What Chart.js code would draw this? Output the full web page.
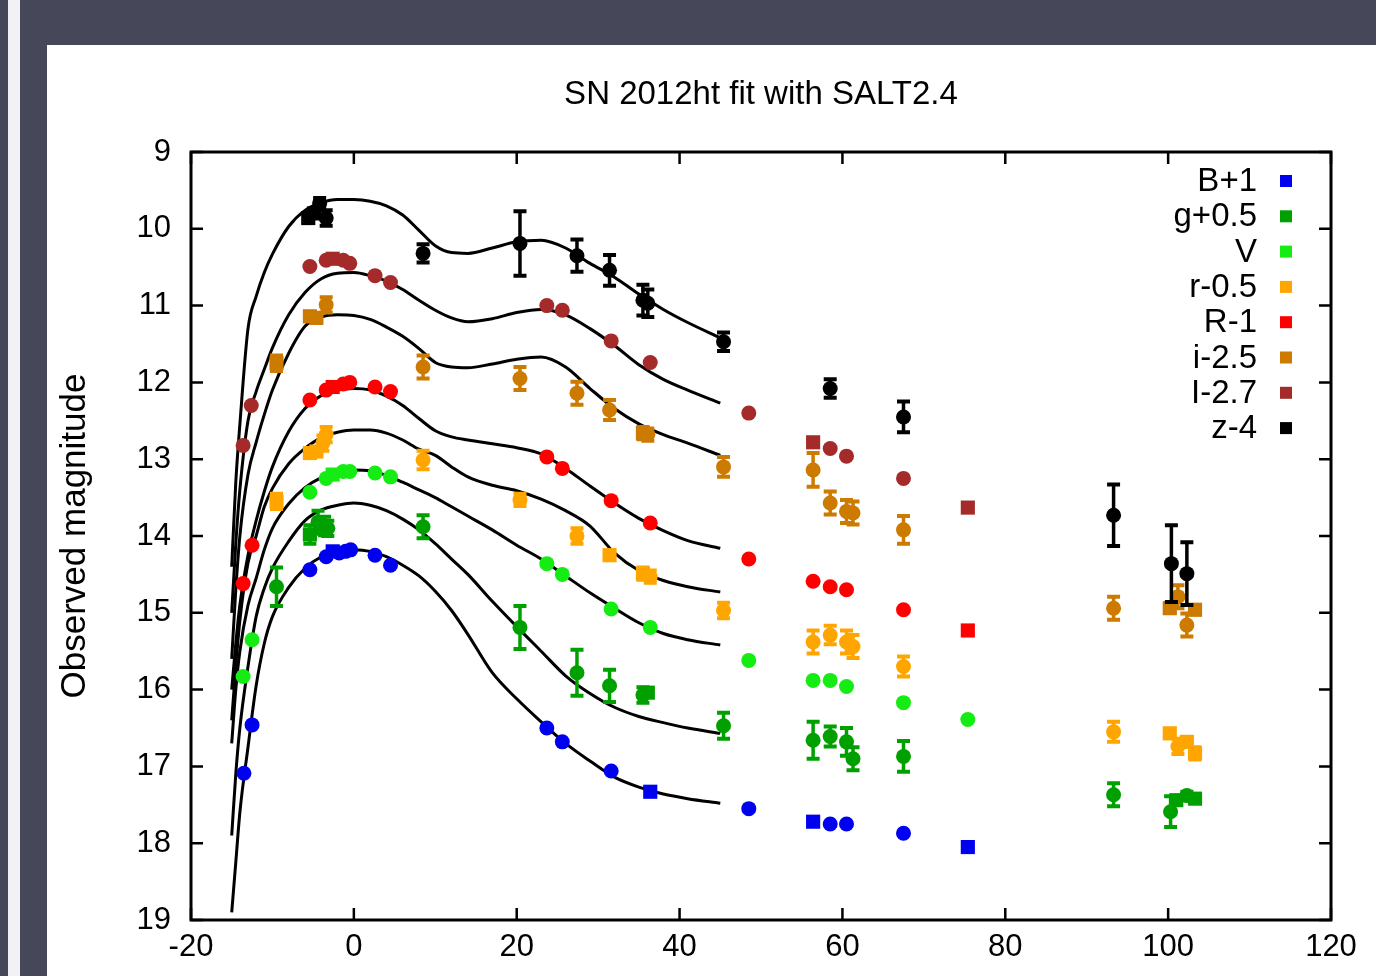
<!DOCTYPE html>
<html>
<head>
<meta charset="utf-8">
<script src="https://cdn.jsdelivr.net/npm/chart.js@4"></script>
<style>
   html, body { margin: 0; padding: 0; }
   body { width: 1376px; height: 976px; background: #464859; position: relative; overflow: hidden; }
   .strip { position: absolute; left: 8px; top: 0; width: 12px; height: 976px; background: #f2f2f5; }
   .panel { position: absolute; left: 47px; top: 45px; width: 1329px; height: 931px; background: #fff; }
</style>
</head>
<body>
<div class="strip"></div>
<div class="panel"><canvas id="myChart" width="1329" height="931"></canvas></div>
<script>
// model curves (SALT2.4 fit)
const curveX = [-15, -14.5, -14, -13, -12, -11, -10, -8, -6, -4, -2, 0, 2, 4, 6, 8, 10, 12, 14, 17, 20, 23, 26, 29, 32, 35, 38, 41, 45];
const zCurve = [14.4, 13.3, 12.55, 11.3, 10.88, 10.57, 10.33, 9.97, 9.76, 9.66, 9.62, 9.62, 9.64, 9.7, 9.82, 10.02, 10.22, 10.31, 10.32, 10.25, 10.17, 10.15, 10.25, 10.45, 10.63, 10.85, 11.05, 11.22, 11.42];
const ICurve = [15.0, 14.1, 13.4, 12.5, 12.12, 11.83, 11.55, 11.12, 10.83, 10.65, 10.58, 10.57, 10.61, 10.68, 10.79, 10.93, 11.06, 11.16, 11.21, 11.17, 11.09, 11.05, 11.12, 11.3, 11.52, 11.77, 11.96, 12.1, 12.27];
const iCurve = [15.6, 14.7, 14.0, 13.2, 12.78, 12.42, 12.1, 11.62, 11.27, 11.15, 11.12, 11.13, 11.18, 11.28, 11.4, 11.56, 11.74, 11.8, 11.81, 11.76, 11.7, 11.67, 11.8, 12.08, 12.34, 12.54, 12.68, 12.79, 12.95];
const RCurve = [16.0, 15.4, 14.9, 14.25, 13.8, 13.42, 13.1, 12.64, 12.34, 12.17, 12.1, 12.08, 12.1, 12.18, 12.3, 12.47, 12.63, 12.71, 12.75, 12.8, 12.85, 12.93, 13.12, 13.35, 13.57, 13.77, 13.93, 14.06, 14.16];
const rCurve = [16.4, 15.7, 15.1, 14.35, 14.0, 13.62, 13.38, 13.06, 12.86, 12.72, 12.65, 12.62, 12.62, 12.66, 12.75, 12.87, 12.95, 13.1, 13.23, 13.34, 13.41, 13.52, 13.67, 13.87, 14.22, 14.45, 14.58, 14.66, 14.73];
const VCurve = [16.7, 16.0, 15.5, 14.9, 14.55, 14.18, 13.9, 13.58, 13.37, 13.24, 13.17, 13.14, 13.15, 13.21, 13.3, 13.4, 13.5, 13.62, 13.74, 13.92, 14.12, 14.3, 14.52, 14.74, 14.94, 15.13, 15.27, 15.35, 15.42];
const gCurve = [17.9, 17.1, 16.5, 15.7, 15.05, 14.68, 14.42, 14.07, 13.8, 13.66, 13.6, 13.57, 13.6, 13.67, 13.78, 13.92, 14.1, 14.3, 14.5, 14.85, 15.18, 15.5, 15.82, 16.05, 16.23, 16.35, 16.43, 16.5, 16.57];
const BCurve = [18.9, 18.25, 17.6, 16.75, 15.95, 15.4, 15.05, 14.67, 14.42, 14.27, 14.2, 14.18, 14.2, 14.27, 14.38, 14.52, 14.72, 14.97, 15.28, 15.78, 16.12, 16.42, 16.7, 16.93, 17.14, 17.27, 17.36, 17.42, 17.48];

// observed photometry (days, magnitude, error); *Sq = indexes drawn as squares
const BX = [-13.5, -12.5, -5.4, -3.4, -2.6, -1.8, -1.0, -0.4, 2.6, 4.5, 23.7, 25.6, 31.6, 36.4, 48.5, 56.4, 58.5, 60.5, 67.5, 75.4];
const BMag = [17.09, 16.46, 14.44, 14.27, 14.2, 14.22, 14.2, 14.18, 14.25, 14.38, 16.5, 16.68, 17.06, 17.33, 17.55, 17.72, 17.75, 17.75, 17.87, 18.05];
const BSq = [4, 13, 15, 19];

const gX = [-9.5, -5.4, -4.4, -3.6, -3.2, 8.5, 20.4, 27.4, 31.4, 35.5, 36.1, 45.4, 56.4, 58.5, 60.5, 61.3, 67.5, 93.3, 100.3, 101.0, 102.3, 103.3];
const gMag = [14.66, 13.98, 13.82, 13.87, 13.9, 13.88, 15.19, 15.78, 15.95, 16.07, 16.04, 16.47, 16.66, 16.61, 16.68, 16.9, 16.87, 17.37, 17.59, 17.44, 17.38, 17.42];
const gErr = [0.25, 0.12, 0.15, 0.12, 0.1, 0.15, 0.28, 0.3, 0.21, 0.1, 0.05, 0.17, 0.24, 0.13, 0.18, 0.15, 0.2, 0.15, 0.2, 0.05, 0.05, 0.05];
const gSq = [1, 10, 19, 21];

const VX = [-13.6, -12.5, -5.4, -3.4, -2.6, -1.3, -0.5, 2.6, 4.5, 23.7, 25.6, 31.6, 36.4, 48.5, 56.4, 58.5, 60.5, 67.5, 75.4];
const VMag = [15.83, 15.35, 13.43, 13.25, 13.2, 13.16, 13.16, 13.18, 13.23, 14.36, 14.5, 14.95, 15.19, 15.62, 15.88, 15.88, 15.96, 16.17, 16.39];
const VSq = [4];

const rX = [-9.5, -5.4, -4.6, -3.8, -3.4, 8.5, 20.4, 27.4, 31.4, 35.5, 36.4, 45.4, 56.4, 58.5, 60.5, 61.3, 67.5, 93.3, 100.2, 101.2, 102.3, 103.3];
const rMag = [13.55, 12.92, 12.9, 12.79, 12.68, 13.01, 13.53, 14.0, 14.25, 14.49, 14.53, 14.97, 15.38, 15.29, 15.38, 15.44, 15.7, 16.55, 16.57, 16.74, 16.68, 16.83];
const rErr = [0.1, 0.05, 0.05, 0.1, 0.1, 0.12, 0.08, 0.1, 0.06, 0.08, 0.08, 0.1, 0.15, 0.12, 0.15, 0.15, 0.13, 0.13, 0.06, 0.1, 0.06, 0.08];
const rSq = [0, 1, 2, 8, 9, 18, 20, 21];

const RX = [-13.6, -12.5, -5.4, -3.4, -2.6, -1.3, -0.5, 2.6, 4.5, 23.7, 25.6, 31.6, 36.4, 48.5, 56.4, 58.5, 60.5, 67.5, 75.4];
const RMag = [14.62, 14.12, 12.23, 12.1, 12.06, 12.02, 12.0, 12.06, 12.12, 12.97, 13.12, 13.54, 13.83, 14.3, 14.59, 14.66, 14.7, 14.96, 15.23];
const RSq = [4, 18];

const iX = [-9.5, -5.4, -4.6, -3.4, 8.5, 20.4, 27.4, 31.4, 35.5, 36.1, 45.4, 56.4, 58.5, 60.5, 61.3, 67.5, 93.3, 100.2, 101.2, 102.3, 103.3];
const iMag = [11.75, 11.14, 11.16, 10.99, 11.8, 11.95, 12.14, 12.36, 12.66, 12.68, 13.1, 13.14, 13.57, 13.68, 13.7, 13.92, 14.94, 14.94, 14.79, 15.16, 14.96];
const iErr = [0.1, 0.06, 0.06, 0.1, 0.15, 0.15, 0.15, 0.13, 0.08, 0.08, 0.13, 0.22, 0.15, 0.15, 0.15, 0.18, 0.15, 0.06, 0.15, 0.15, 0.06];
const iSq = [0, 1, 2, 8, 17, 20];

const IX = [-13.6, -12.6, -5.4, -3.4, -2.6, -1.3, -0.5, 2.6, 4.5, 23.7, 25.6, 31.6, 36.4, 48.5, 56.4, 58.5, 60.5, 67.5, 75.4];
const IMag = [12.82, 12.3, 10.49, 10.41, 10.39, 10.41, 10.45, 10.61, 10.7, 11.0, 11.06, 11.46, 11.74, 12.4, 12.78, 12.86, 12.96, 13.25, 13.63];
const ISq = [4, 14, 18];

const zX = [-5.6, -4.9, -4.2, -3.4, 8.5, 20.4, 27.4, 31.4, 35.5, 36.1, 45.4, 58.5, 67.5, 93.3, 100.4, 102.3];
const zMag = [9.86, 9.8, 9.67, 9.86, 10.32, 10.19, 10.35, 10.54, 10.93, 10.97, 11.47, 12.08, 12.45, 13.73, 14.36, 14.49];
const zErr = [0.05, 0.05, 0.07, 0.1, 0.12, 0.42, 0.21, 0.2, 0.2, 0.18, 0.12, 0.12, 0.2, 0.4, 0.5, 0.41];
const zSq = [0, 1];

const xTicks = [-20, 0, 20, 40, 60, 80, 100, 120];
const yTicks = [9, 10, 11, 12, 13, 14, 15, 16, 17, 18, 19];

const FONT = '"Liberation Sans", Arial, sans-serif';

const bands = [
   { label: 'B+1', color: '#0000f0', x: BX, mag: BMag, err: null, sq: BSq, curve: BCurve },
   { label: 'g+0.5', color: '#00a000', x: gX, mag: gMag, err: gErr, sq: gSq, curve: gCurve },
   { label: 'V', color: '#14ec14', x: VX, mag: VMag, err: null, sq: VSq, curve: VCurve },
   { label: 'r-0.5', color: '#ffa500', x: rX, mag: rMag, err: rErr, sq: rSq, curve: rCurve },
   { label: 'R-1', color: '#ff0000', x: RX, mag: RMag, err: null, sq: RSq, curve: RCurve },
   { label: 'i-2.5', color: '#cc7a00', x: iX, mag: iMag, err: iErr, sq: iSq, curve: iCurve },
   { label: 'I-2.7', color: '#a52a2a', x: IX, mag: IMag, err: null, sq: ISq, curve: ICurve },
   { label: 'z-4', color: '#000000', x: zX, mag: zMag, err: zErr, sq: zSq, curve: zCurve },
];

const errorBars = {
   id: 'errorBars',
   afterDatasetsDraw(chart) {
      const { ctx, scales: { x, y } } = chart;
      chart.data.datasets.forEach((ds) => {
         if (!ds.errors) return;
         ctx.save();
         ctx.strokeStyle = ds.backgroundColor;
         ds.data.forEach((p, i) => {
            const e = ds.errors[i];
            const px = x.getPixelForValue(p.x);
            const top = y.getPixelForValue(p.y - e);
            const bot = y.getPixelForValue(p.y + e);
            ctx.lineWidth = 3.5;
            ctx.beginPath();
            ctx.moveTo(px, top);
            ctx.lineTo(px, bot);
            ctx.stroke();
            ctx.lineWidth = 4;
            ctx.beginPath();
            ctx.moveTo(px - 6.5, top);
            ctx.lineTo(px + 6.5, top);
            ctx.moveTo(px - 6.5, bot);
            ctx.lineTo(px + 6.5, bot);
            ctx.stroke();
         });
         ctx.restore();
      });
   },
};

// gnuplot style frame: border plus inward ticks on all four sides
const frameTicks = {
   id: 'frameTicks',
   afterDatasetsDraw(chart) {
      const { ctx, chartArea: a, scales: { x, y } } = chart;
      ctx.save();
      ctx.strokeStyle = '#000';
      ctx.lineWidth = 2.5;
      ctx.beginPath();
      x.ticks.forEach((t) => {
         const px = x.getPixelForValue(t.value);
         ctx.moveTo(px, a.bottom);
         ctx.lineTo(px, a.bottom - 12);
         ctx.moveTo(px, a.top);
         ctx.lineTo(px, a.top + 12);
      });
      y.ticks.forEach((t) => {
         const py = y.getPixelForValue(t.value);
         ctx.moveTo(a.left, py);
         ctx.lineTo(a.left + 12, py);
         ctx.moveTo(a.right, py);
         ctx.lineTo(a.right - 12, py);
      });
      ctx.stroke();
      ctx.lineWidth = 3;
      ctx.strokeRect(a.left, a.top, a.right - a.left, a.bottom - a.top);
      ctx.restore();
   },
};

// key in the top right corner: text first, then the coloured square
const keyBox = {
   id: 'keyBox',
   afterDraw(chart) {
      const { ctx, chartArea: a } = chart;
      ctx.save();
      ctx.font = '33px ' + FONT;
      ctx.textAlign = 'right';
      ctx.textBaseline = 'middle';
      chart.data.datasets.forEach((ds, i) => {
         if (!ds.keyLabel) return;
         const row = a.top + 29 + i * 35.3;
         ctx.fillStyle = '#000';
         ctx.fillText(ds.keyLabel, a.right - 74, row + 1);
         ctx.fillStyle = ds.backgroundColor;
         ctx.fillRect(a.right - 51, row - 6, 12, 12);
      });
      ctx.restore();
   },
};

const datasets = [];
bands.forEach((b) => {
   datasets.push({
      keyLabel: b.label,
      data: b.x.map((v, i) => ({ x: v, y: b.mag[i] })),
      errors: b.err,
      backgroundColor: b.color,
      borderWidth: 0,
      pointStyle: (c) => (b.sq.includes(c.dataIndex) ? 'rect' : 'circle'),
      pointRadius: (c) => (b.sq.includes(c.dataIndex) ? 10 : 7.5),
   });
});
bands.forEach((b) => {
   datasets.push({
      data: curveX.map((v, i) => ({ x: v, y: b.curve[i] })),
      showLine: true,
      borderColor: '#000',
      borderWidth: 3,
      pointRadius: 0,
      cubicInterpolationMode: 'monotone',
   });
});

Chart.defaults.font.family = FONT;
Chart.defaults.color = '#000';

const ctx = document.getElementById('myChart').getContext('2d');
new Chart(ctx, {
   type: 'scatter',
   data: { datasets: datasets },
   plugins: [errorBars, frameTicks, keyBox],
   options: {
      responsive: false,
      animation: false,
      layout: { padding: { left: 0, right: 45, top: 0, bottom: 0 } },
      plugins: {
         legend: { display: false },
         tooltip: { enabled: false },
         title: {
            display: true,
            text: 'SN 2012ht fit with SALT2.4',
            fullSize: false,
            color: '#000',
            font: { size: 33, weight: 'normal' },
            padding: { top: 30, bottom: 37.4 },
         },
      },
      scales: {
         x: {
            type: 'linear',
            min: -20,
            max: 120,
            afterFit: (s) => { s.height = 56; },
            afterBuildTicks: (s) => { s.ticks = xTicks.map((v) => ({ value: v })); },
            grid: { display: false, drawTicks: false },
            border: { display: false },
            ticks: { padding: 9, maxRotation: 0, autoSkip: false, font: { size: 31 } },
         },
         y: {
            type: 'linear',
            reverse: true,
            min: 9,
            max: 19,
            afterFit: (s) => { s.width = 144; },
            afterBuildTicks: (s) => { s.ticks = yTicks.map((v) => ({ value: v })); },
            grid: { display: false, drawTicks: false },
            border: { display: false },
            ticks: { padding: 20, autoSkip: false, font: { size: 31 } },
            title: {
               display: true,
               text: 'Observed magnitude',
               font: { size: 35 },
               padding: { top: 7, bottom: 0 },
            },
         },
      },
   },
});
</script>
</body>
</html>
